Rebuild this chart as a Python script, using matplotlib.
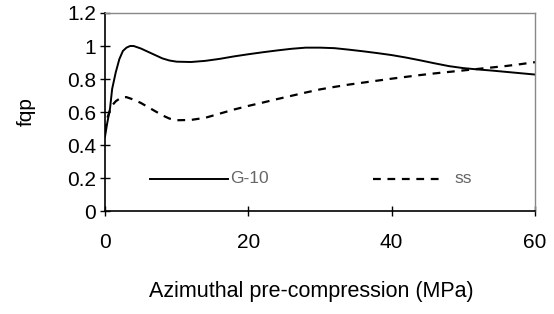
import matplotlib
matplotlib.use("Agg")
import matplotlib.pyplot as plt

plt.rcParams['font.family'] = ['Liberation Sans', 'DejaVu Sans']

g10_x = [0, 0.3, 0.7, 1.0, 1.5, 2.0, 2.5, 3.0, 3.5, 4.0, 5.0, 6.0, 7.0, 8.0, 9.0, 10, 12, 14, 16, 18, 20, 22, 24, 26, 28, 30, 32, 34, 36, 38, 40, 42, 44, 46, 48, 50, 52, 54, 56, 58, 60]
g10_y = [0.45, 0.53, 0.62, 0.74, 0.84, 0.92, 0.97, 0.99, 1.0, 1.0, 0.985, 0.965, 0.945, 0.925, 0.912, 0.905, 0.903, 0.91, 0.922, 0.937, 0.95, 0.962, 0.973, 0.983, 0.99, 0.99, 0.987, 0.978, 0.968, 0.957, 0.945, 0.93, 0.913, 0.895, 0.878, 0.866, 0.858, 0.851, 0.843, 0.835, 0.827]

ss_x = [0, 0.3, 0.7, 1.0, 1.5, 2.0, 2.5, 3.0, 4.0, 5.0, 6.0, 7.0, 8.0, 9.0, 10, 12, 14, 16, 18, 20, 22, 24, 26, 28, 30, 32, 34, 36, 38, 40, 42, 44, 46, 48, 50, 52, 54, 56, 58, 60]
ss_y = [0.48, 0.56, 0.61, 0.64, 0.665, 0.68, 0.69, 0.69, 0.675, 0.655, 0.63, 0.605, 0.58, 0.56, 0.55, 0.552, 0.565, 0.59, 0.615, 0.637, 0.657, 0.678, 0.698, 0.718, 0.737, 0.752, 0.766, 0.778, 0.79, 0.802, 0.813, 0.824, 0.834, 0.843, 0.852, 0.861, 0.87, 0.879, 0.89, 0.902]

xticks = [0, 20, 40, 60]
yticks = [0, 0.2, 0.4, 0.6, 0.8, 1.0, 1.2]
ytick_labels = ['0', '0.2', '0.4', '0.6', '0.8', '1', '1.2']

fig = plt.figure(figsize=(5.54, 3.14), dpi=100)
ax = fig.add_axes([0.1895, 0.328, 0.7762, 0.6306])

ax.plot(g10_x, g10_y, color='black', lw=1.4)
ax.plot(ss_x, ss_y, color='black', lw=1.6, dashes=(3.5, 3))

# in-plot legend
ax.plot([6.3, 17.2], [0.195, 0.195], color='black', lw=1.4)
ax.text(17.4, 0.195, 'G-10', fontsize=12.5, color='#666666', va='center', ha='left')
ax.plot([37.4, 47.4], [0.195, 0.195], color='black', lw=1.6, dashes=(3.5, 3))
ax.text(48.7, 0.195, 'ss', fontsize=12.5, color='#666666', va='center', ha='left')

ax.set_xlim(0, 60)
ax.set_ylim(0, 1.2)
ax.set_xticks(xticks)
ax.set_yticks(yticks)
ax.set_yticklabels(ytick_labels)
ax.tick_params(axis='both', direction='inout', length=7, width=1, labelsize=15, color='black')
ax.tick_params(axis='x', pad=12)
ax.tick_params(axis='y', pad=3)

for s in ['left', 'bottom']:
    ax.spines[s].set_color('black')
    ax.spines[s].set_linewidth(1.2)
for s in ['top', 'right']:
    ax.spines[s].set_color('#888888')
    ax.spines[s].set_linewidth(1.0)

ax.set_ylabel('fqp', fontsize=15)
ax.yaxis.set_label_coords(-0.16, 0.5)
ax.set_xlabel('Azimuthal pre-compression (MPa)', fontsize=15.5)
ax.xaxis.set_label_coords(0.48, -0.355)

fig.savefig('out.png', dpi=100)
